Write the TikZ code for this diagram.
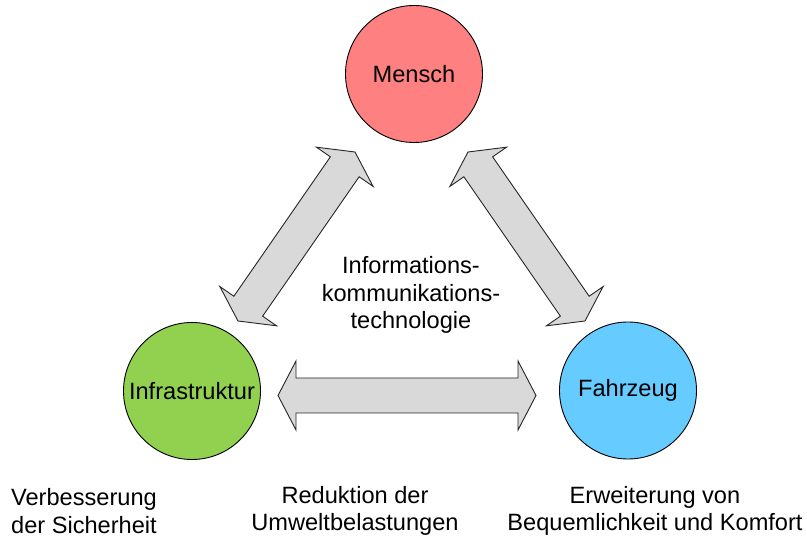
\documentclass[tikz,border=0pt]{standalone}
\usepackage{fontspec}
\setmainfont{Liberation Sans}
\usetikzlibrary{calc}
\definecolor{menschred}{RGB}{255,128,128}
\definecolor{infragreen}{RGB}{146,208,80}
\definecolor{fahrblue}{RGB}{102,204,255}
\definecolor{arrowgray}{RGB}{217,217,217}
\newcommand\blockdblarrow[2]{%
  \draw[blockarrow] (#1)
    -- ($(#1)!18pt!(#2)!34.5pt!90:(#2)$)
    -- ($(#1)!18pt!(#2)!17.5pt!90:(#2)$)
    -- ($(#2)!18pt!(#1)!17.5pt!-90:(#1)$)
    -- ($(#2)!18pt!(#1)!34.5pt!-90:(#1)$)
    -- (#2)
    -- ($(#2)!18pt!(#1)!34.5pt!90:(#1)$)
    -- ($(#2)!18pt!(#1)!17.5pt!90:(#1)$)
    -- ($(#1)!18pt!(#2)!17.5pt!-90:(#2)$)
    -- ($(#1)!18pt!(#2)!34.5pt!-90:(#2)$)
    -- cycle;}
\begin{document}
\begin{tikzpicture}[x=1pt,y=-1pt,
  circ/.style={circle,draw=black,line width=0.9pt,minimum size=137pt,inner sep=0pt,
    font=\fontsize{23.6}{27}\selectfont},
  lbl/.style={align=center,font=\fontsize{23.6}{27.5}\selectfont},
  blockarrow/.style={draw=black!85,fill=arrowgray,line width=0.9pt,line join=miter}]
\useasboundingbox (0,0) rectangle (807,540);

\node[circ,fill=menschred] (mensch) at (414,74) {Mensch};
\node[circ,fill=infragreen] (infra) at (192,391) {Infrastruktur};
\node[circ,fill=fahrblue] (fahr) at (628,390.5) {Fahrzeug};

\coordinate (hl) at (278,395.5);
\coordinate (hr) at (536,395.5);
\coordinate (ll) at (238,321);
\coordinate (lu) at (355,152);
\coordinate (rl) at (585,321);
\coordinate (ru) at (468,152);

\blockdblarrow{hl}{hr}
\blockdblarrow{ll}{lu}
\blockdblarrow{rl}{ru}

\node[lbl] (ikt) at (411,295) {Informations-\\kommunikations-\\technologie};
\node[lbl] (sich) at (84,511) {Verbesserung\\der Sicherheit};
\node[lbl] (umw) at (355,511) {Reduktion der\\Umweltbelastungen};
\node[lbl] (komf) at (655,511) {Erweiterung von\\Bequemlichkeit und Komfort};
\end{tikzpicture}
\end{document}
